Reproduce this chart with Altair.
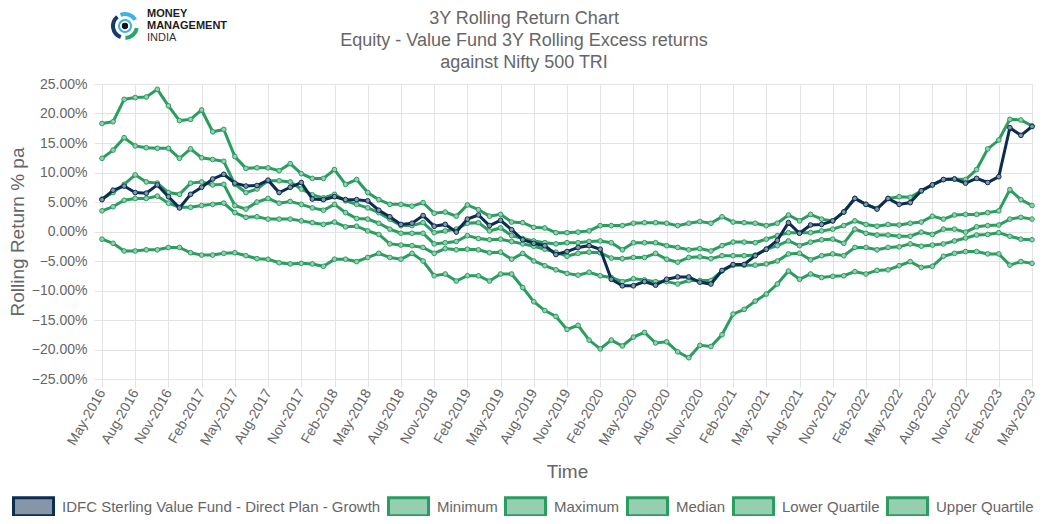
import altair as alt
import pandas as pd

series_names = [
    "IDFC Sterling Value Fund - Direct Plan - Growth",
    "Minimum", "Maximum", "Median", "Lower Quartile", "Upper Quartile",
]
months = pd.date_range("2016-05-01", "2023-05-01", freq="MS").strftime("%b-%Y").tolist()
tick_labels = months[::3]
title_lines = ["3Y Rolling Return Chart",
               "Equity - Value Fund 3Y Rolling Excess returns",
               "against Nifty 500 TRI"]

fund = [5.4, 7.0, 7.7, 6.6, 6.5, 7.9, 5.9, 4.0, 6.3, 7.5,
        8.9, 9.7, 8.2, 7.7, 7.8, 8.7, 6.6, 7.5, 8.3, 5.5,
        5.4, 5.9, 5.4, 5.4, 5.2, 3.6, 2.5, 1.2, 1.4, 2.7,
        0.9, 1.2, -0.1, 2.1, 2.8, 1.0, 1.9, 0.3, -1.4, -2.0,
        -2.4, -3.9, -3.4, -2.7, -2.4, -3.0, -8.1, -9.2, -9.2, -8.5,
        -9.1, -8.1, -7.7, -7.7, -8.6, -8.9, -6.6, -5.6, -5.6, -4.1,
        -3.0, -1.5, 1.5, -0.3, 1.1, 1.2, 1.8, 3.3, 5.6, 4.6,
        3.8, 5.6, 4.6, 4.9, 6.9, 7.9, 8.8, 8.9, 8.2, 9.0,
        8.3, 9.3, 17.6, 16.3, 17.8]
maximum = [18.3, 18.6, 22.4, 22.7, 22.8, 24.1, 21.3, 18.8, 19.0, 20.6,
           16.9, 17.3, 12.7, 10.7, 10.8, 10.8, 10.3, 11.5, 9.8, 9.0,
           9.0, 10.5, 8.0, 8.8, 6.6, 5.4, 4.6, 4.6, 4.3, 4.9,
           3.1, 3.3, 2.6, 4.5, 3.7, 2.6, 2.9, 1.6, 1.5, 0.7,
           0.6, -0.2, -0.2, -0.1, 0.1, 1.0, 1.0, 1.0, 1.4, 1.5,
           1.5, 1.4, 1.0, 1.4, 1.7, 1.4, 2.5, 1.6, 1.5, 1.4,
           1.0, 1.4, 2.8, 1.8, 2.9, 2.1, 1.8, 3.3, 5.6, 4.6,
           3.9, 5.6, 5.9, 5.8, 6.9, 7.9, 8.8, 8.9, 8.8, 10.5,
           14.0, 15.5, 19.0, 18.9, 17.9]
upper_q = [12.4, 13.8, 15.9, 14.5, 14.2, 14.1, 14.1, 12.4, 14.0, 12.5,
           12.2, 11.9, 8.0, 6.6, 7.2, 8.6, 8.6, 8.4, 7.2, 6.2,
           5.7, 6.3, 5.2, 4.6, 4.0, 3.2, 2.1, 1.0, 1.0, 1.5,
           -0.2, 0.1, 0.4, 1.4, 1.5, 0.1, 0.6, -0.7, -1.2, -1.6,
           -1.9, -2.1, -1.9, -1.9, -1.7, -1.6, -1.9, -3.1, -1.9, -1.9,
           -1.9, -2.4, -2.7, -3.1, -2.9, -3.3, -2.4, -1.8, -1.8, -1.9,
           -1.3, -0.7, -0.2, -0.2, -0.2, 0.1, 0.4, 1.0, 1.8, 1.2,
           0.9, 1.2, 1.1, 1.4, 1.6, 2.6, 2.1, 2.8, 2.9, 2.9,
           3.2, 3.5, 7.1, 5.4, 4.4]
median = [5.5, 6.6, 8.0, 9.6, 8.4, 8.2, 6.6, 6.3, 8.2, 8.4,
          7.9, 8.0, 4.4, 3.8, 5.0, 5.6, 4.8, 5.1, 4.6, 4.0,
          3.6, 4.6, 3.2, 2.2, 2.1, 1.4, 0.4, -0.3, -0.3, -0.3,
          -2.1, -1.9, -1.7, -0.7, -1.2, -1.4, -1.3, -1.7, -2.1, -2.5,
          -3.0, -3.5, -4.2, -3.7, -3.5, -3.6, -4.5, -4.6, -4.4, -4.4,
          -3.7, -4.7, -5.2, -4.4, -4.3, -4.6, -4.1, -4.1, -4.1, -4.0,
          -3.0, -2.4, -1.6, -2.4, -1.8, -1.4, -1.3, -2.0, 0.4, -0.3,
          -0.6, -0.6, -0.8, -0.8, -0.1, -0.5, 0.4, 0.4, -0.1, 0.8,
          1.0, 1.1, 2.1, 2.4, 2.1]
lower_q = [3.5, 4.2, 5.3, 5.6, 5.6, 6.0, 4.8, 4.1, 4.1, 4.4,
           4.6, 4.8, 3.2, 2.4, 2.5, 2.1, 2.1, 2.1, 1.8, 1.5,
           1.2, 1.6, 0.8, 0.9, 0.1, -0.5, -2.1, -2.3, -2.4, -2.7,
           -3.7, -2.9, -3.1, -3.0, -3.1, -3.6, -3.5, -4.7, -3.7, -5.0,
           -5.8, -6.5, -7.1, -7.4, -6.9, -7.5, -7.8, -8.5, -8.0, -8.2,
           -8.5, -8.5, -8.9, -8.3, -8.3, -8.3, -6.7, -5.7, -5.7, -5.7,
           -5.5, -5.0, -3.8, -3.7, -4.8, -4.1, -3.8, -4.1, -2.7, -2.7,
           -3.1, -2.7, -2.6, -2.1, -2.5, -2.3, -2.1, -1.6, -1.1, -0.6,
           -0.5, -0.2, -0.8, -1.3, -1.4]
minimum = [-1.3, -2.0, -3.3, -3.3, -3.1, -3.1, -2.7, -2.7, -3.6, -4.0,
           -4.0, -3.7, -3.6, -4.1, -4.6, -4.7, -5.3, -5.5, -5.4, -5.5,
           -5.9, -4.7, -4.7, -5.1, -4.4, -3.7, -4.4, -4.7, -3.7, -5.0,
           -7.5, -7.2, -8.4, -7.5, -7.5, -8.4, -7.2, -7.2, -9.5, -11.9,
           -13.4, -14.4, -16.6, -15.9, -18.4, -19.9, -18.4, -19.4, -17.9, -17.1,
           -18.9, -18.7, -20.4, -21.4, -19.3, -19.5, -17.5, -14.0, -13.2, -11.8,
           -10.6, -8.9, -6.7, -8.1, -7.2, -7.8, -7.6, -7.5, -6.8, -7.2,
           -6.6, -6.5, -5.8, -5.1, -6.1, -5.9, -4.2, -3.7, -3.4, -3.4,
           -3.8, -3.8, -5.7, -5.1, -5.4]

NAVY = "#0c2d52"
GREEN = "#2a9d60"
NAVY_LIGHT = "#8596a8"
GREEN_LIGHT = "#95cfb0"
TXT = "#666666"
FONT = "Liberation Sans"

values_by_series = [fund, minimum, maximum, median, lower_q, upper_q]
rows = []
for name, vals in zip(series_names, values_by_series):
    for i, (m, v) in enumerate(zip(months, vals)):
        rows.append({"idx": i, "month": m, "series": name, "value": v})
df = pd.DataFrame(rows)

label_expr = "[" + ",".join("'%s'" % t for t in tick_labels) + "][round(datum.value/3)]"

x_enc = alt.X(
    "idx:Q",
    scale=alt.Scale(domain=[0, 84], nice=False, zero=False),
    axis=alt.Axis(values=list(range(0, 85, 3)), labelExpr=label_expr, labelAngle=-60,
                  labelOverlap=False, title="Time", titlePadding=15, labelPadding=3),
)
y_enc = alt.Y(
    "value:Q",
    scale=alt.Scale(domain=[-25, 25], nice=False, zero=False),
    axis=alt.Axis(values=list(range(-25, 26, 5)),
                  labelExpr="format(datum.value, '.2f') + '%'",
                  title="Rolling Return % pa", titlePadding=4, labelPadding=7),
)

stroke_scale = alt.Scale(domain=series_names, range=[NAVY] + [GREEN] * 5)
fill_scale = alt.Scale(domain=series_names, range=[NAVY_LIGHT] + [GREEN_LIGHT] * 5)

leg = alt.Legend(
    title=None, orient="none", legendX=-90, legendY=401, direction="horizontal",
    symbolType="M-1,-0.45L1,-0.45L1,0.45L-1,0.45Z", symbolSize=1600,
    symbolStrokeWidth=3, labelFontSize=15, labelColor=TXT, labelFont=FONT,
    labelOffset=7, columnPadding=1, labelLimit=500, symbolOpacity=1,
)

base = alt.Chart(df).encode(x=x_enc, y=y_enc)
is_fund = alt.datum.series == series_names[0]

green_lines = base.transform_filter(~is_fund).mark_line(strokeWidth=3).encode(
    stroke=alt.Stroke("series:N", scale=stroke_scale, legend=leg))
green_points = base.transform_filter(~is_fund).mark_point(
    filled=True, shape="circle", size=22, strokeWidth=1, opacity=1).encode(
    stroke=alt.Stroke("series:N", scale=stroke_scale, legend=leg),
    fill=alt.Fill("series:N", scale=fill_scale, legend=leg))
fund_lines = base.transform_filter(is_fund).mark_line(strokeWidth=3).encode(
    stroke=alt.Stroke("series:N", scale=stroke_scale, legend=leg))
fund_points = base.transform_filter(is_fund).mark_point(
    filled=True, shape="circle", size=22, strokeWidth=1, opacity=1).encode(
    stroke=alt.Stroke("series:N", scale=stroke_scale, legend=leg),
    fill=alt.Fill("series:N", scale=fill_scale, legend=leg))

one = pd.DataFrame({"a": [0]})

# chart title as three centred text lines
titles = [
    alt.Chart(one).mark_text(text=t, align="center", baseline="middle", fontSize=18,
                             font=FONT, color=TXT).encode(x=alt.value(422), y=alt.value(yy))
    for t, yy in zip(title_lines, [-65, -43, -21])
]

# logo (decorative)
cx, cy = 23, -58
logo = [
    alt.Chart(one).mark_arc(theta=3.5, theta2=5.6, radius=14, radius2=10, color="#163a6b").encode(
        x=alt.value(cx), y=alt.value(cy)),
    alt.Chart(one).mark_arc(theta=5.9, theta2=7.3, radius=14, radius2=10, color="#3bb3e3").encode(
        x=alt.value(cx), y=alt.value(cy)),
    alt.Chart(one).mark_arc(theta=1.75, theta2=3.1, radius=14, radius2=10, color="#2aa567").encode(
        x=alt.value(cx), y=alt.value(cy)),
    alt.Chart(one).mark_arc(theta=0, theta2=6.283, radius=7, radius2=5, color="#3bb3e3").encode(
        x=alt.value(cx), y=alt.value(cy)),
    alt.Chart(one).mark_point(filled=True, shape="circle", size=40, color="#111111", opacity=1).encode(
        x=alt.value(cx), y=alt.value(cy)),
    alt.Chart(one).mark_text(text="MONEY", align="left", baseline="middle", fontSize=11,
                             fontWeight="bold", font=FONT, color="#1d1d1f").encode(
        x=alt.value(45), y=alt.value(-70)),
    alt.Chart(one).mark_text(text="MANAGEMENT", align="left", baseline="middle", fontSize=11,
                             fontWeight="bold", font=FONT, color="#1d1d1f").encode(
        x=alt.value(45), y=alt.value(-58)),
    alt.Chart(one).mark_text(text="INDIA", align="left", baseline="middle", fontSize=11,
                             font=FONT, color="#333333").encode(
        x=alt.value(45), y=alt.value(-46)),
]

chart = alt.layer(green_lines, green_points, fund_lines, fund_points, *titles, *logo).properties(
    width=930, height=295,
    padding={"left": 94, "top": 76, "right": 8, "bottom": 137},
    autosize=alt.AutoSizeParams(type="none"),
).configure_view(stroke=None).configure_axis(
    grid=True, gridColor="#e3e3e3", domain=False, tickColor="#e3e3e3", tickSize=8,
    labelColor=TXT, labelFontSize=14, labelFont=FONT,
    titleColor=TXT, titleFontSize=19, titleFontWeight="normal", titleFont=FONT,
)

chart.save("out.html", embed_options={"renderer": "svg", "actions": False})
